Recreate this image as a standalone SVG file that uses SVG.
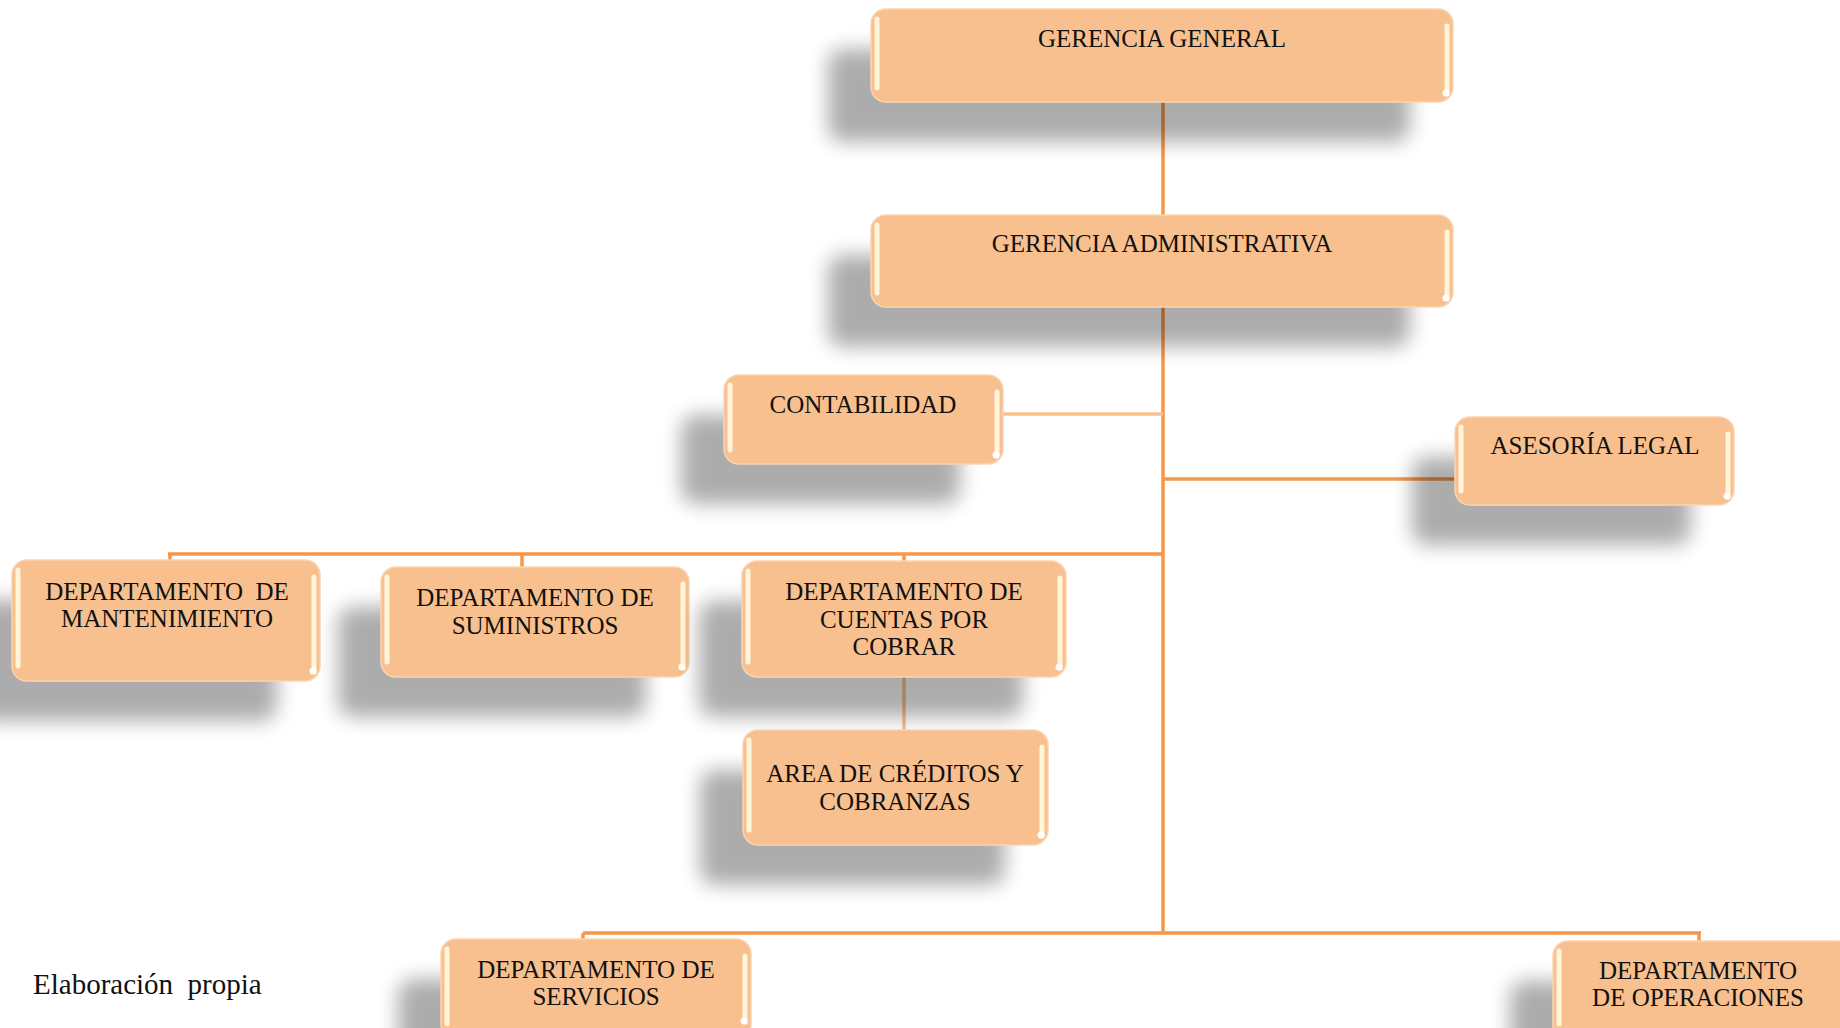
<svg xmlns="http://www.w3.org/2000/svg" width="1840" height="1028" viewBox="0 0 1840 1028">
<defs>
<filter id="blur" x="-20%" y="-40%" width="140%" height="180%"><feGaussianBlur stdDeviation="10"/></filter>
<style>
.conn{stroke:#F79646;stroke-width:3.5;fill:none}
.conn-l{stroke:#F9BF8F;stroke-width:3.5;fill:none}
.shadow{fill:#000;opacity:0.32;filter:url(#blur)}
.box{fill:#F8C08F;stroke:#FAD3B0;stroke-width:1.5}
.hl{stroke:#FFF5DA;stroke-width:5;stroke-linecap:round}
.dot{fill:#FFFFFF}
.t{font-family:"Liberation Serif","Times New Roman",serif;font-size:25px;fill:#111;text-anchor:middle}
.cap{font-family:"Liberation Serif","Times New Roman",serif;font-size:29px;fill:#111}
</style>
</defs>
<rect width="1840" height="1028" fill="#fff"/>
<g id="connectors">
<line class="conn" x1="1163" y1="102" x2="1163" y2="215"/>
<line class="conn" x1="1163" y1="307" x2="1163" y2="934"/>
<line class="conn-l" x1="1003" y1="414" x2="1163" y2="414"/>
<line class="conn" x1="1163" y1="479" x2="1455" y2="479"/>
<line class="conn" x1="168" y1="554" x2="1163" y2="554"/>
<line class="conn" x1="170" y1="554" x2="170" y2="561"/>
<line class="conn" x1="522" y1="554" x2="522" y2="568"/>
<line class="conn" x1="904" y1="554" x2="904" y2="562"/>
<line class="conn-l" x1="904" y1="677" x2="904" y2="730"/>
<line class="conn" x1="583" y1="933" x2="1701" y2="933"/>
<line class="conn" x1="583" y1="933" x2="583" y2="940"/>
<line class="conn" x1="1699" y1="933" x2="1699" y2="942"/>
</g>
<g id="gerencia-general">
<rect class="shadow" x="828" y="49" width="582" height="93" rx="15"/>
<rect class="box" x="871" y="9" width="582" height="93" rx="15"/>
<line class="hl" x1="877" y1="19" x2="877" y2="88"/><line class="hl" x1="1447" y1="26" x2="1447" y2="94"/><circle class="dot" cx="1446" cy="93" r="3.5"/>
<text class="t" x="1162" y="47">GERENCIA GENERAL</text>
</g>
<g id="gerencia-administrativa">
<rect class="shadow" x="828" y="255" width="582" height="92" rx="15"/>
<rect class="box" x="871" y="215" width="582" height="92" rx="15"/>
<line class="hl" x1="877" y1="225" x2="877" y2="293"/><line class="hl" x1="1447" y1="232" x2="1447" y2="299"/><circle class="dot" cx="1446" cy="298" r="3.5"/>
<text class="t" x="1162" y="252">GERENCIA ADMINISTRATIVA</text>
</g>
<g id="contabilidad">
<rect class="shadow" x="681" y="415" width="279" height="89" rx="15"/>
<rect class="box" x="724" y="375" width="279" height="89" rx="15"/>
<line class="hl" x1="730" y1="385" x2="730" y2="450"/><line class="hl" x1="997" y1="392" x2="997" y2="456"/><circle class="dot" cx="996" cy="455" r="3.5"/>
<text class="t" x="863" y="413">CONTABILIDAD</text>
</g>
<g id="asesoria-legal">
<rect class="shadow" x="1412" y="457" width="279" height="88" rx="15"/>
<rect class="box" x="1455" y="417" width="279" height="88" rx="15"/>
<line class="hl" x1="1461" y1="427" x2="1461" y2="491"/><line class="hl" x1="1728" y1="434" x2="1728" y2="497"/><circle class="dot" cx="1727" cy="496" r="3.5"/>
<text class="t" x="1595" y="454">ASESORÍA LEGAL</text>
</g>
<g id="dep-mantenimiento">
<rect class="shadow" x="-31" y="600" width="308" height="121" rx="15"/>
<rect class="box" x="12" y="560" width="308" height="121" rx="15"/>
<line class="hl" x1="18" y1="570" x2="18" y2="666"/><line class="hl" x1="314" y1="577" x2="314" y2="672"/><circle class="dot" cx="313" cy="671" r="3.5"/>
<text class="t" x="167" y="600" xml:space="preserve">DEPARTAMENTO  DE</text>
<text class="t" x="167" y="627">MANTENIMIENTO</text>
</g>
<g id="dep-suministros">
<rect class="shadow" x="338" y="607" width="308" height="110" rx="15"/>
<rect class="box" x="381" y="567" width="308" height="110" rx="15"/>
<line class="hl" x1="387" y1="577" x2="387" y2="662"/><line class="hl" x1="683" y1="584" x2="683" y2="668"/><circle class="dot" cx="682" cy="667" r="3.5"/>
<text class="t" x="535" y="606">DEPARTAMENTO DE</text>
<text class="t" x="535" y="634">SUMINISTROS</text>
</g>
<g id="dep-cuentas-por-cobrar">
<rect class="shadow" x="699" y="601" width="324" height="116" rx="15"/>
<rect class="box" x="742" y="561" width="324" height="116" rx="15"/>
<line class="hl" x1="748" y1="571" x2="748" y2="662"/><line class="hl" x1="1060" y1="578" x2="1060" y2="668"/><circle class="dot" cx="1059" cy="667" r="3.5"/>
<text class="t" x="904" y="600">DEPARTAMENTO DE</text>
<text class="t" x="904" y="628">CUENTAS POR</text>
<text class="t" x="904" y="655">COBRAR</text>
</g>
<g id="area-creditos-cobranzas">
<rect class="shadow" x="700" y="770" width="305" height="115" rx="15"/>
<rect class="box" x="743" y="730" width="305" height="115" rx="15"/>
<line class="hl" x1="749" y1="740" x2="749" y2="830"/><line class="hl" x1="1042" y1="747" x2="1042" y2="836"/><circle class="dot" cx="1041" cy="835" r="3.5"/>
<text class="t" x="895" y="782">AREA DE CRÉDITOS Y</text>
<text class="t" x="895" y="810">COBRANZAS</text>
</g>
<g id="dep-servicios">
<rect class="shadow" x="398" y="979" width="310" height="100" rx="15"/>
<rect class="box" x="441" y="939" width="310" height="100" rx="15"/>
<line class="hl" x1="447" y1="949" x2="447" y2="1024"/><line class="hl" x1="745" y1="956" x2="745" y2="1022"/><circle class="dot" cx="744" cy="1021" r="3.5"/>
<text class="t" x="596" y="978">DEPARTAMENTO DE</text>
<text class="t" x="596" y="1005">SERVICIOS</text>
</g>
<g id="dep-operaciones">
<rect class="shadow" x="1510" y="981" width="300" height="100" rx="15"/>
<rect class="box" x="1553" y="941" width="300" height="100" rx="15"/>
<line class="hl" x1="1559" y1="951" x2="1559" y2="1024"/>
<text class="t" x="1698" y="979">DEPARTAMENTO</text>
<text class="t" x="1698" y="1006">DE OPERACIONES</text>
</g>
<text class="cap" x="33" y="994" xml:space="preserve">Elaboración  propia</text>
</svg>
